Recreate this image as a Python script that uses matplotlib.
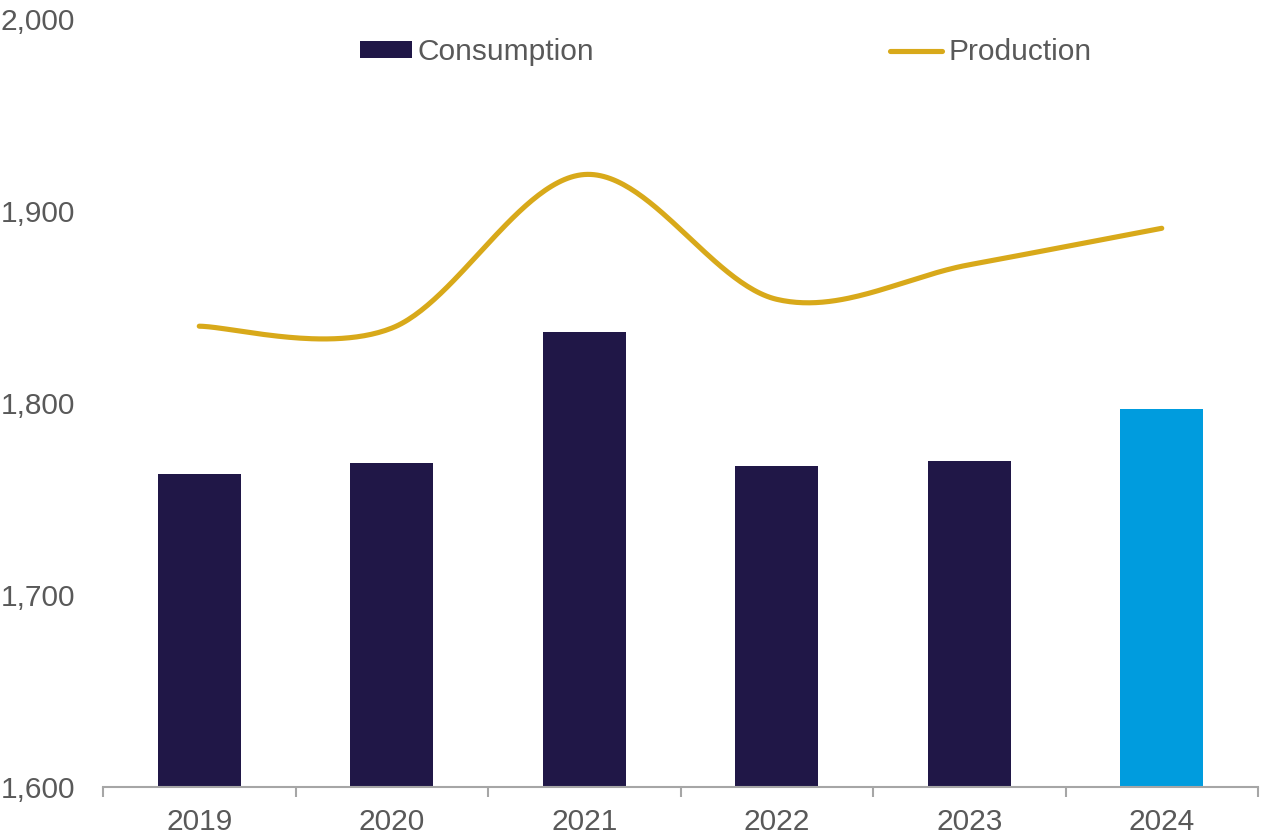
import numpy as np
import matplotlib
matplotlib.use("Agg")
import matplotlib.pyplot as plt
from matplotlib.patches import Patch
from matplotlib.lines import Line2D
from matplotlib.ticker import FuncFormatter, FixedLocator

plt.rcParams['font.family'] = ['Liberation Sans', 'DejaVu Sans']

years = ["2019", "2020", "2021", "2022", "2023", "2024"]
consumption = [1763, 1769, 1837, 1767, 1770, 1797]
production = [1840, 1839, 1919, 1854, 1872, 1891]

bar_colors = ["#201747"] * 5 + ["#009CDE"]
line_color = "#D8A91A"
text_color = "#595959"
axis_color = "#A6A6A6"
FS = 21.5


def smooth_curve(xs, ys, n=60):
    """Cubic Bezier smoothing through every point (Catmull-Rom style)."""
    pts = np.column_stack([xs, ys]).astype(float)
    ext = np.vstack([pts[0], pts, pts[-1]])
    out = []
    t = np.linspace(0, 1, n)[:, None]
    for i in range(len(pts) - 1):
        p0, p1, p2, p3 = ext[i], ext[i + 1], ext[i + 2], ext[i + 3]
        c1 = p1 + (p2 - p0) / 6.0
        c2 = p2 - (p3 - p1) / 6.0
        seg = ((1 - t) ** 3) * p1 + 3 * ((1 - t) ** 2) * t * c1 \
            + 3 * (1 - t) * t ** 2 * c2 + t ** 3 * p2
        out.append(seg if i == 0 else seg[1:])
    curve = np.vstack(out)
    return curve[:, 0], curve[:, 1]


fig = plt.figure(figsize=(12.62, 8.34), dpi=100)
ax = fig.add_axes([103 / 1262, 1 - 787 / 834, (1258 - 103) / 1262, (787 - 19) / 834])

x = np.arange(len(years))
ax.bar(x, [c - 1600 for c in consumption], bottom=1600, width=0.43,
       color=bar_colors, zorder=2)

sx, sy = smooth_curve(x, production)
ax.plot(sx, sy, color=line_color, lw=3.7, solid_capstyle='round', zorder=3)

ax.set_xlim(-0.5, len(years) - 0.5)
ax.set_ylim(1600, 2000)

for s in ["top", "right", "left"]:
    ax.spines[s].set_visible(False)
ax.spines["bottom"].set_color(axis_color)
ax.spines["bottom"].set_linewidth(1.5)
ax.spines["bottom"].set_zorder(4)

ax.set_xticks(x)
ax.set_xticklabels(years)
ax.xaxis.set_minor_locator(FixedLocator(np.arange(-0.5, len(years), 1.0)))
ax.tick_params(axis='x', which='major', length=0, pad=15,
               labelsize=FS, labelcolor=text_color)
ax.tick_params(axis='x', which='minor', length=7, width=1.5,
               color=axis_color, direction='out')

ax.set_yticks([1600, 1700, 1800, 1900, 2000])
ax.yaxis.set_major_formatter(FuncFormatter(lambda v, p: f"{int(v):,}"))
ax.tick_params(axis='y', length=0, pad=20, labelsize=FS, labelcolor=text_color)

handles = [Patch(facecolor="#201747", edgecolor="none"),
           Line2D([0], [0], color=line_color, lw=3.7, solid_capstyle='round')]
leg = ax.legend(handles, ["Consumption", "Production"], ncol=2,
                loc='upper center', bbox_to_anchor=(0.539, 1.0),
                frameon=False, fontsize=FS, handlelength=1.75,
                handleheight=0.5, handletextpad=0.2, columnspacing=9.9,
                borderaxespad=0.25)
for t in leg.get_texts():
    t.set_color(text_color)

fig.savefig("out.png", dpi=100)
